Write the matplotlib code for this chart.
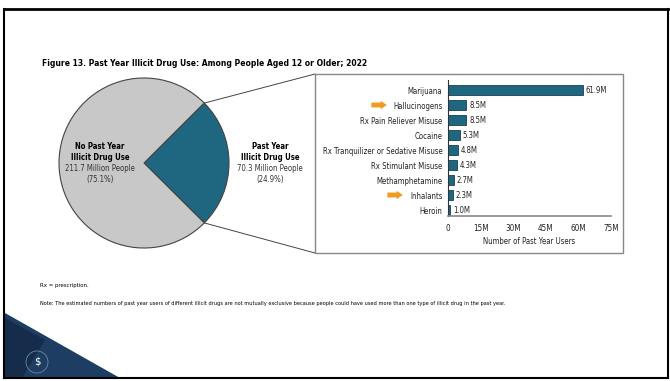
import numpy as np
import matplotlib.pyplot as plt
from matplotlib.patches import Rectangle, Polygon, Ellipse, ConnectionPatch

plt.rcParams['font.family'] = ['DejaVu Sans']
plt.rcParams['font.stretch'] = 'condensed'

# data
pie_labels = ['Past Year\nIllicit Drug Use', 'No Past Year\nIllicit Drug Use']
pie_people = [70.3, 211.7]
pie_pct = [24.9, 75.1]

drugs = ['Marijuana', 'Hallucinogens', 'Rx Pain Reliever Misuse', 'Cocaine',
         'Rx Tranquilizer or Sedative Misuse', 'Rx Stimulant Misuse',
         'Methamphetamine', 'Inhalants', 'Heroin']
users = [61.9, 8.5, 8.5, 5.3, 4.8, 4.3, 2.7, 2.3, 1.0]
flagged = ['Hallucinogens', 'Inhalants']
xticks = [0, 15, 30, 45, 60, 75]

W, H = 670, 381
teal = '#1f6680'
grey = '#c8c8c8'
orange = '#f39a1e'


def box(x0, y0, x1, y1):
    # pixel box (top-left origin) -> figure fraction rect
    return [x0 / W, 1 - y1 / H, (x1 - x0) / W, (y1 - y0) / H]


fig = plt.figure(figsize=(W / 100, H / 100), dpi=100)

# slide frame
fig.add_artist(plt.Line2D([4 / W, 668 / W], [1 - 9 / H, 1 - 9 / H], color='black', lw=2))
fig.add_artist(plt.Line2D([4 / W, 668 / W], [1 - 378 / H, 1 - 378 / H], color='black', lw=1.5))
fig.add_artist(plt.Line2D([4 / W, 4 / W], [1 - 9 / H, 1 - 378 / H], color='black', lw=1.5))
fig.add_artist(plt.Line2D([668 / W, 668 / W], [1 - 9 / H, 1 - 378 / H], color='black', lw=1.5))
fig.add_artist(Polygon([[5 / W, 1 - 313 / H], [120 / W, 1 - 378 / H], [5 / W, 1 - 378 / H]],
                       closed=True, transform=fig.transFigure, color='#1d3d63', lw=0))
fig.add_artist(Polygon([[5 / W, 1 - 318 / H], [45 / W, 1 - 340 / H], [22 / W, 1 - 378 / H], [5 / W, 1 - 378 / H]],
                       closed=True, transform=fig.transFigure, color='#152d4b', lw=0))
fig.add_artist(Ellipse((37 / W, 1 - 362 / H), 22 / W, 22 / H, transform=fig.transFigure, fill=False,
                       edgecolor='#6f87a3', lw=0.6))
fig.text(37 / W, 1 - 362 / H, '$', fontsize=8, color='white', ha='center', va='center')

fig.text(42 / W, 1 - 63 / H, 'Figure 13. Past Year Illicit Drug Use: Among People Aged 12 or Older; 2022',
         fontsize=6.1, fontweight='bold', va='center', ha='left')

# pie
axp = fig.add_axes(box(59, 78, 229, 248))
half = pie_pct[0] / 100 * 180
wedges, _ = axp.pie(pie_people, colors=[teal, grey], startangle=-half, counterclock=True,
                    wedgeprops=dict(edgecolor='#444444', linewidth=0.8))
axp.set_xlim(-1, 1)
axp.set_ylim(-1, 1)
axp.set_aspect('equal')
axp.axis('off')

fig.text(100 / W, 1 - 152 / H, pie_labels[1], fontsize=5.6, fontweight='bold', ha='center', va='center',
         linespacing=1.3)
fig.text(100 / W, 1 - 174 / H, f'{pie_people[1]} Million People\n({pie_pct[1]}%)', fontsize=5.6,
         ha='center', va='center', color='#333333', linespacing=1.3)
fig.text(270 / W, 1 - 152 / H, pie_labels[0], fontsize=5.6, fontweight='bold', ha='center', va='center',
         linespacing=1.3)
fig.text(270 / W, 1 - 174 / H, f'{pie_people[0]} Million People\n({pie_pct[0]}%)', fontsize=5.6,
         ha='center', va='center', color='#333333', linespacing=1.3)

# bar panel frame
fig.add_artist(Rectangle((315 / W, 1 - 253 / H), 308 / W, 179 / H, transform=fig.transFigure,
                         fill=False, edgecolor='#888888', lw=1))

ax = fig.add_axes(box(448, 80, 611, 216))
pos = np.arange(len(drugs))
ax.barh(pos, users, height=0.66, color=teal, edgecolor='#1a3f50', lw=0.6)
for p, v in zip(pos, users):
    ax.text(v + 1.2, p, f'{v}M', va='center', ha='left', fontsize=5.6, color='#222222')
ax.set_xlim(0, 75)
ax.set_ylim(len(drugs) - 0.6, -0.667)
ax.set_yticks(pos)
ax.set_yticklabels(drugs, fontsize=5.6, color='#222222')
ax.set_xticks(xticks)
ax.set_xticklabels(['0'] + [f'{t}M' for t in xticks[1:]], fontsize=5.9, color='#222222')
ax.tick_params(length=0, pad=4)
ax.tick_params(axis='x', pad=6)
ax.set_xlabel('Number of Past Year Users', fontsize=5.6, labelpad=2.5, color='#222222')
for s in ['top', 'right']:
    ax.spines[s].set_visible(False)
ax.spines['left'].set_color('#333333')
ax.spines['bottom'].set_color('#888888')
ax.spines['bottom'].set_linewidth(1.2)

tr = ax.get_yaxis_transform()
arrow_x = {'Hallucinogens': (-0.47, -0.375), 'Inhalants': (-0.372, -0.277)}
for name in flagged:
    y = drugs.index(name)
    x0, x1 = arrow_x[name]
    ax.annotate('', xy=(x1, y), xytext=(x0, y), xycoords=tr, textcoords=tr,
                arrowprops=dict(arrowstyle='simple,head_length=0.45,head_width=0.6,tail_width=0.35',
                                color=orange, lw=0, shrinkA=0, shrinkB=0))

# zoom connectors from the wedge edge to the panel
for ang, py in [(half, 74), (-half, 253)]:
    pt = (np.cos(np.radians(ang)), np.sin(np.radians(ang)))
    con = ConnectionPatch(xyA=pt, coordsA=axp.transData, xyB=(315 / W, 1 - py / H),
                          coordsB=fig.transFigure, color='#444444', lw=0.7)
    fig.add_artist(con)

fig.text(40 / W, 1 - 285 / H, 'Rx = prescription.', fontsize=4.3, va='center')
fig.text(40 / W, 1 - 304 / H, 'Note: The estimated numbers of past year users of different illicit drugs are not '
         'mutually exclusive because people could have used more than one type of illicit drug in the past year.',
         fontsize=4.1, va='center')

fig.savefig('out.png', dpi=100)
